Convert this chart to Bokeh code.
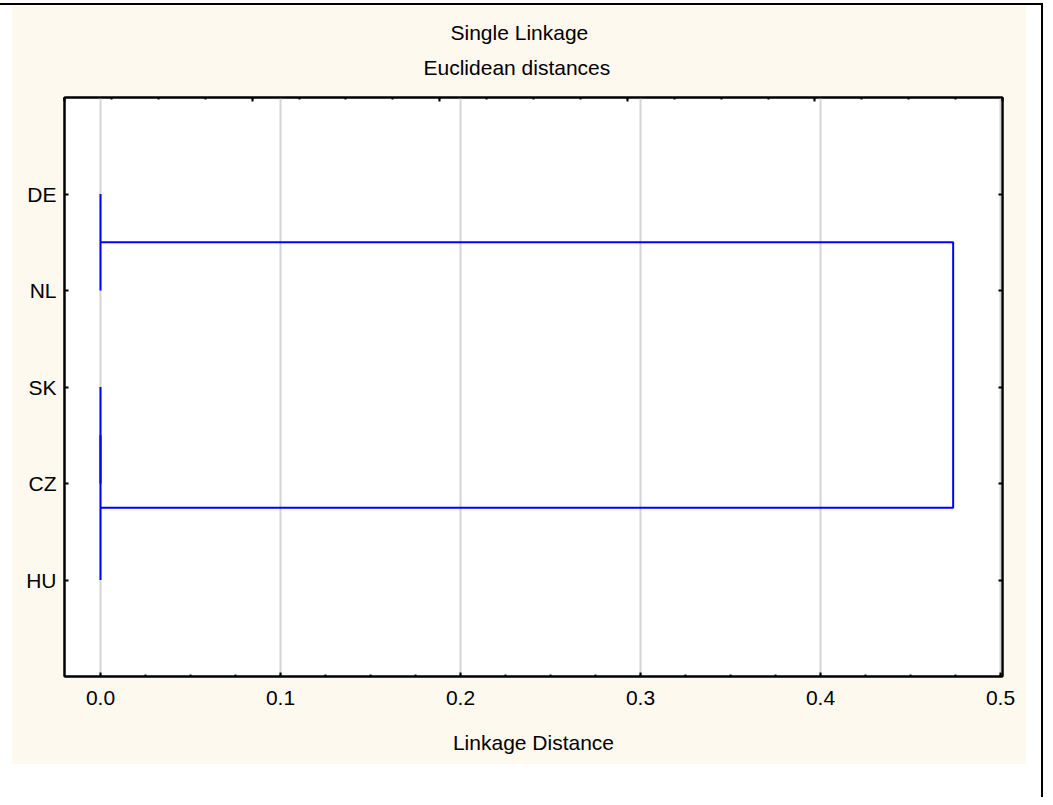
import numpy as np
from bokeh.plotting import figure
from bokeh.layouts import column, row
from bokeh.models import (Range1d, LinearAxis, FixedTicker, SingleIntervalTicker,
                          PrintfTickFormatter, Title, Div)
from bokeh.embed import file_html
from bokeh.resources import INLINE

# ---------------- data ----------------
title_lines = ["Single Linkage", "Euclidean distances"]
x_label = "Linkage Distance"
leaves = ["DE", "NL", "SK", "CZ", "HU"]          # top to bottom
merge_names = ["C1", "C2", "C3", "C4"]
merge_left = ["SK", "C1", "DE", "C3"]
merge_right = ["CZ", "HU", "NL", "C2"]
merge_dist = [0.0, 0.0, 0.0, 0.4737]

# ---------------- styles ----------------
FONT = "Liberation Sans"
BEIGE = "#fef9ef"
BLUE = "#0000ff"

n = len(leaves)
pos = {name: float(n - i) for i, name in enumerate(leaves)}
hgt = {name: 0.0 for name in leaves}
xs, ys = [], []
for name, a, b, d in zip(merge_names, merge_left, merge_right, merge_dist):
    ya, yb = pos[a], pos[b]
    xs.append([hgt[a], d, d, hgt[b]])
    ys.append([ya, ya, yb, yb])
    pos[name] = (ya + yb) / 2.0
    hgt[name] = d

W, H = 1015, 759
p = figure(width=W, height=H, x_range=Range1d(-0.02, 0.50111), y_range=Range1d(0, n + 1),
           output_backend="svg", toolbar_location=None,
           min_border_left=53, min_border_right=W - 991, min_border_top=92,
           min_border_bottom=H - 671, margin=(0, 15, 0, 11))
p.border_fill_color = BEIGE
p.background_fill_color = "white"
p.outline_line_color = "black"
p.outline_line_width = 2

# bottom axis
xa = p.xaxis[0]
xa.ticker = SingleIntervalTicker(interval=0.1, num_minor_ticks=4)
xa.formatter = PrintfTickFormatter(format="%.1f")
xa.axis_line_color = "black"
xa.axis_line_width = 2
xa.major_tick_in = 4
xa.major_tick_out = 0
xa.minor_tick_in = 2
xa.minor_tick_out = 0
xa.major_tick_line_width = 2
xa.minor_tick_line_width = 2
xa.major_tick_line_color = "black"
xa.minor_tick_line_color = "black"
xa.major_label_text_font = FONT
xa.major_label_text_font_size = "21px"
xa.major_label_text_color = "black"
xa.major_label_standoff = 14
xa.axis_label = x_label
xa.axis_label_text_font = FONT
xa.axis_label_text_font_size = "21px"
xa.axis_label_text_font_style = "normal"
xa.axis_label_text_color = "black"
xa.axis_label_standoff = 23

# left axis
ya_ = p.yaxis[0]
ya_.ticker = FixedTicker(ticks=list(range(1, n + 1)))
ya_.major_label_overrides = {n - i: name for i, name in enumerate(leaves)}
ya_.axis_line_color = "black"
ya_.axis_line_width = 2
ya_.major_tick_in = 4
ya_.major_tick_out = 0
ya_.minor_tick_line_color = None
ya_.major_tick_line_width = 2
ya_.major_label_text_font = FONT
ya_.major_label_text_font_size = "21px"
ya_.major_label_text_color = "black"
ya_.major_label_standoff = 8

# right axis (ticks only)
ra = LinearAxis(ticker=FixedTicker(ticks=list(range(1, n + 1))),
                major_label_overrides={k: "" for k in range(1, n + 1)},
                major_label_text_font_size="1px",
                axis_line_color="black", axis_line_width=2,
                major_tick_in=4, major_tick_out=0, major_tick_line_width=2,
                minor_tick_line_color=None)
p.add_layout(ra, "right")

# top axis (ticks only, independent scale)
p.extra_x_ranges = {"top": Range1d(0, 5)}
ta = LinearAxis(x_range_name="top",
                ticker=FixedTicker(ticks=[0, 1, 2, 3, 4, 5],
                                   minor_ticks=[k * 0.25 for k in range(21)]),
                major_label_overrides={k: " " for k in range(6)},
                major_label_text_font_size="1px", major_label_standoff=5,
                axis_line_color="black", axis_line_width=2,
                major_tick_in=4, major_tick_out=0, major_tick_line_width=2,
                minor_tick_in=2, minor_tick_out=0, minor_tick_line_width=2)
p.add_layout(ta, "above")

# two-line title (second line added first: it sits closer to the frame)
p.add_layout(Title(text=title_lines[1], align="left", offset=359, standoff=20,
                   text_font=FONT, text_font_size="21px", text_font_style="normal",
                   text_color="black"), "above")
p.add_layout(Title(text=title_lines[0], align="left", offset=386, standoff=0,
                   text_font=FONT, text_font_size="21px", text_font_style="normal",
                   text_color="black"), "above")

p.xgrid.grid_line_color = "#d4d4d4"
p.xgrid.grid_line_width = 2
p.ygrid.visible = False

p.multi_line(xs, ys, line_color=BLUE, line_width=2)

# page frame lines: black line on top, black line at the right
top_line = Div(width=1043, height=2, margin=(3, 0, 0, 0), styles={"background-color": "black"})
right_line = Div(width=2, height=792, margin=(0, 0, 0, 0), styles={"background-color": "black"})
layout = column(top_line, row(p, right_line, spacing=0), spacing=0)

open("out.html", "w").write(file_html(layout, INLINE))
